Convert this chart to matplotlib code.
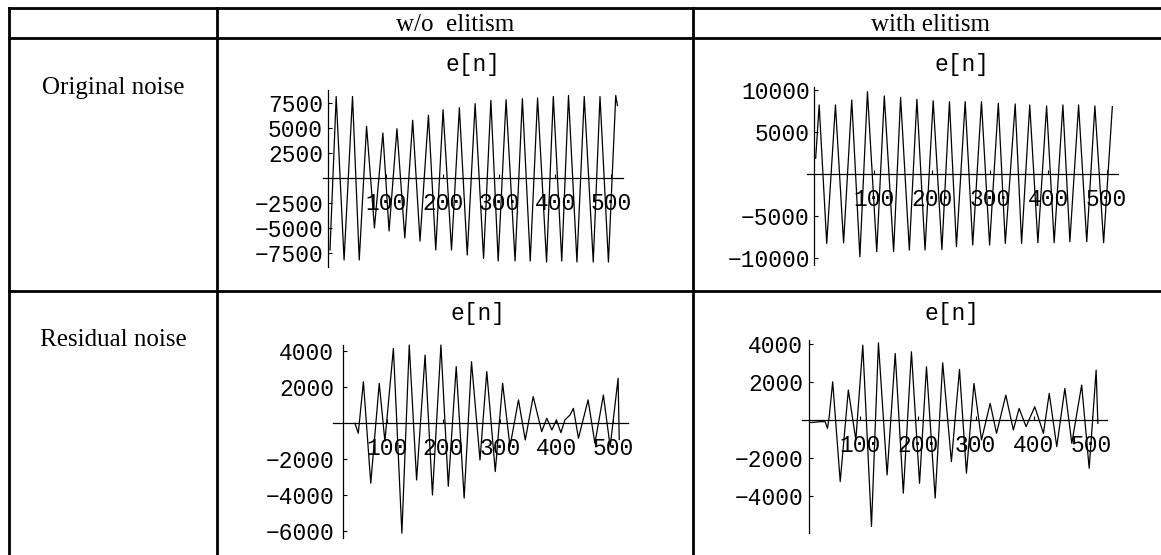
import matplotlib
matplotlib.use("Agg")
import matplotlib.pyplot as plt
from matplotlib.lines import Line2D

# ---------------- data (extrema) ----------------
col_headers = ["w/o  elitism", "with elitism"]
row_headers = ["Original noise", "Residual noise"]
plot_title = "e[n]"
x_ticks = [100, 200, 300, 400, 500]

# Original noise, w/o elitism
n_orig_wo = [0, 11, 25, 40, 52, 65, 79, 94, 105, 119, 133, 147, 160, 175, 188, 201, 216, 230,
             244, 258, 273, 286, 299, 313, 329, 342, 356, 369, 385, 397, 412, 424, 439, 452,
             468, 480, 495, 508, 511]
e_orig_wo = [-7200, 8150, -8200, 8150, -8200, 5170, -5000, 4500, -5300, 4930, -6000, 5770, -6300,
             6270, -7200, 6830, -7200, 7030, -7700, 7430, -8050, 7770, -8300, 7830, -8300, 7930,
             -8300, 8000, -8400, 8150, -8300, 8250, -8400, 8150, -8400, 8150, -8400, 8250, 7250]
yt_orig_wo = [7500, 5000, 2500, -2500, -5000, -7500]

# Original noise, with elitism
n_orig_w = [0, 6, 19, 34, 48, 62, 76, 89, 105, 118, 134, 146, 161, 174, 188, 202, 217, 230, 242,
            257, 270, 285, 299, 314, 326, 343, 354, 368, 382, 397, 410, 425, 437, 452, 466, 480,
            495, 510]
e_orig_w = [1870, 8220, -8260, 8220, -8200, 8810, -9850, 9800, -9250, 9290, -9250, 9130, -9050,
            8890, -9050, 8730, -9000, 8610, -8650, 8610, -8460, 8610, -8460, 8420, -8260, 8340,
            -8260, 8220, -8180, 8100, -8180, 8220, -8060, 8220, -8060, 8100, -8180, 8020]
yt_orig_w = [10000, 5000, -5000, -10000]

# Residual noise, w/o elitism
n_res_wo = [44, 50, 59, 72, 87, 97, 112, 127, 140, 153, 168, 181, 196, 209, 223, 237, 250, 265,
            277, 292, 305, 318, 333, 345, 359, 374, 383, 392, 400, 408, 415, 424, 430, 439, 456,
            468, 483, 495, 509, 511]
e_res_wo = [0, -550, 2310, -3330, 2220, -1000, 4160, -6100, 4350, -3150, 3790, -3980, 4350, -3500,
            3150, -4160, 3420, -2040, 2870, -2680, 2220, -1300, 1300, -925, 1480, -460, 280, -370,
            185, -520, 185, 460, 830, -830, 1300, -1110, 1570, -1300, 2500, -900]
yt_res_wo = [4000, 2000, -2000, -4000, -6000]

# Residual noise, with elitism
n_res_w = [13, 31, 40, 44, 47, 53, 66, 80, 93, 105, 120, 132, 147, 161, 175, 189, 203, 215, 230,
           243, 258, 272, 284, 297, 310, 325, 336, 352, 365, 375, 387, 402, 417, 427, 440, 454,
           466, 483, 496, 508, 511]
e_res_w = [-140, -90, -90, -440, 175, 2010, -3240, 1575, -1050, 3940, -5600, 4060, -2890, 3500,
           -3850, 3590, -3330, 2800, -4110, 3010, -2190, 2660, -2800, 1925, -1050, 875, -700, 1310,
           -525, 610, -350, 700, -700, 1400, -1400, 1660, -1225, 1840, -2540, 2625, -175]
yt_res_w = [4000, 2000, -2000, -4000]

# ---------------- layout ----------------
W, H = 1161, 555
fig = plt.figure(figsize=(W / 100, H / 100), dpi=100)
fig.patch.set_facecolor("white")


def fx(x):
    return x / W


def fy(y):
    return 1 - y / H


SERIF = "Liberation Serif"
MONO = "Liberation Mono"
TFS = 18
MFS = 16.5

# table grid
LW = 2.0
for y in (8, 38, 291):
    fig.add_artist(Line2D([fx(9), fx(1161)], [fy(y), fy(y)], transform=fig.transFigure,
                          color="black", lw=LW, solid_capstyle="projecting"))
for x in (9, 217, 693):
    fig.add_artist(Line2D([fx(x), fx(x)], [fy(8), fy(555)], transform=fig.transFigure,
                          color="black", lw=LW, solid_capstyle="projecting"))

fig.text(fx(455), fy(25), col_headers[0], ha="center", va="center", family=SERIF, size=TFS)
fig.text(fx(930), fy(25), col_headers[1], ha="center", va="center", family=SERIF, size=TFS)
fig.text(fx(113), fy(88), row_headers[0], ha="center", va="center", family=SERIF, size=TFS)
fig.text(fx(113), fy(340), row_headers[1], ha="center", va="center", family=SERIF, size=TFS)

# geometry of each Mathematica-style panel (pixels)
panels = [
    dict(n=n_orig_wo, e=e_orig_wo, yt=yt_orig_wo, n0=330, ppn=0.5625, y0=178, ppu=0.01,
         xs=322.7, xe=623, yt_px=90, yb_px=267, yax=328, title=(473, 65), ypad=3.6),
    dict(n=n_orig_w, e=e_orig_w, yt=yt_orig_w, n0=815.67, ppn=0.5817, y0=174, ppu=0.0084,
         xs=807.3, xe=1118.3, yt_px=86.7, yb_px=265, yax=814, title=(961.7, 65), ypad=3.0),
    dict(n=n_res_wo, e=e_res_wo, yt=yt_res_wo, n0=330, ppn=0.566, y0=423.3, ppu=0.018,
         xs=333.3, xe=628, yt_px=345, yb_px=538.3, yax=342.7, title=(478.3, 313.3), ypad=6.0),
    dict(n=n_res_w, e=e_res_w, yt=yt_res_w, n0=802, ppn=0.579, y0=420, ppu=0.019,
         xs=801.7, xe=1106.7, yt_px=340, yb_px=533.3, yax=809.3, title=(951.7, 313.3), ypad=4.3),
]

for p in panels:
    ax = fig.add_axes([fx(p["xs"]), fy(p["yb_px"]), (p["xe"] - p["xs"]) / W,
                       (p["yb_px"] - p["yt_px"]) / H])
    ax.set_facecolor("none")
    ax.set_xlim((p["xs"] - p["n0"]) / p["ppn"], (p["xe"] - p["n0"]) / p["ppn"])
    ax.set_ylim((p["y0"] - p["yb_px"]) / p["ppu"], (p["y0"] - p["yt_px"]) / p["ppu"])
    ax.plot(p["n"], p["e"], color="black", lw=0.9, clip_on=False, zorder=3)
    for s in ("top", "right"):
        ax.spines[s].set_visible(False)
    ax.spines["left"].set_position(("data", (p["yax"] - p["n0"]) / p["ppn"]))
    ax.spines["bottom"].set_position(("data", 0))
    for s in ("left", "bottom"):
        ax.spines[s].set_linewidth(0.9)
        ax.spines[s].set_color("black")
    ax.set_xticks(x_ticks)
    ax.set_xticklabels([str(v) for v in x_ticks], family=MONO, size=MFS)
    ax.set_yticks(p["yt"])
    ax.set_yticklabels([str(v).replace("-", "\u2212") for v in p["yt"]], family=MONO, size=MFS)
    ax.tick_params(axis="x", direction="in", length=3, width=0.8, pad=10)
    ax.tick_params(axis="y", direction="in", length=3, width=0.8, pad=p["ypad"])
    fig.text(fx(p["title"][0]), fy(p["title"][1]), plot_title, ha="center", va="center",
             family=MONO, size=MFS)

fig.savefig("out.png", dpi=100, facecolor="white")
